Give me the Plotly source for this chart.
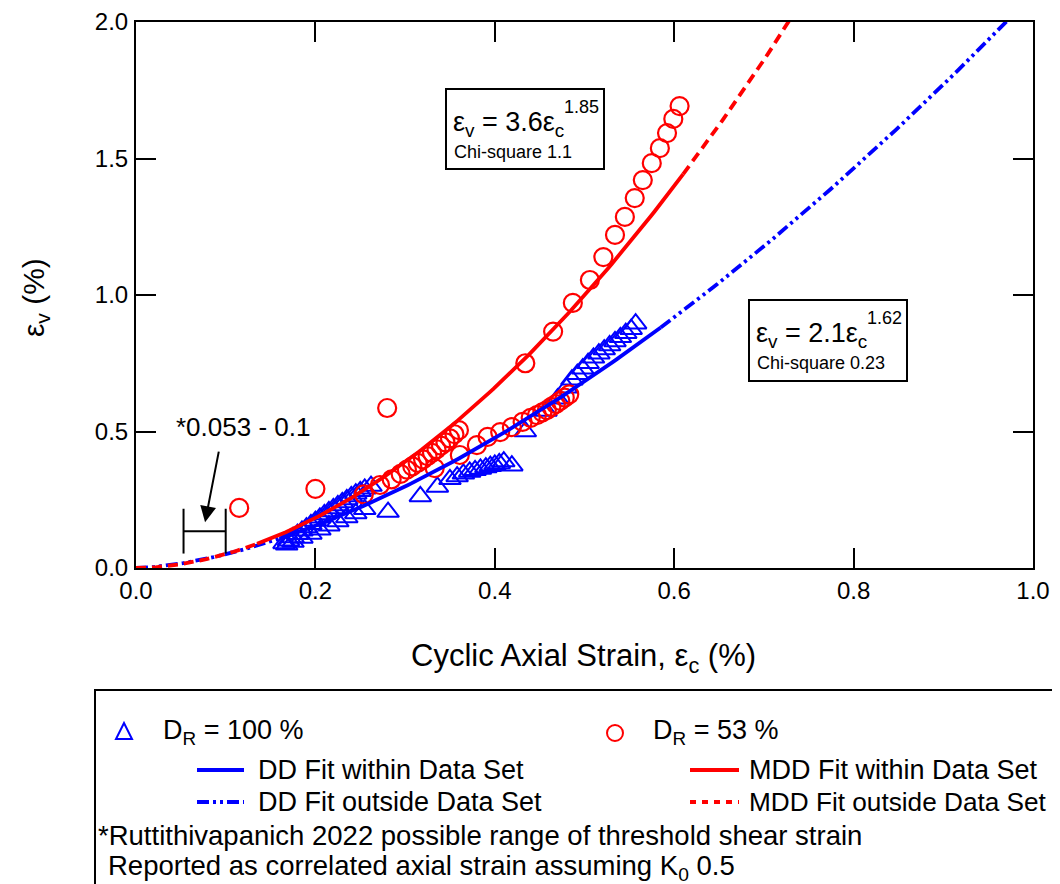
import numpy as np
import plotly.graph_objects as go

FONT = "Liberation Sans, Arial, sans-serif"

# ---------------- data ----------------
# DR = 100 % (DD) test points
dd_x_a = [0.165, 0.170, 0.175, 0.180, 0.185, 0.190, 0.195, 0.200, 0.205, 0.210,
          0.215, 0.220, 0.225, 0.230, 0.235, 0.240, 0.245, 0.250, 0.255, 0.262]
dd_y_a = [0.090, 0.100, 0.112, 0.124, 0.136, 0.148, 0.160, 0.172, 0.184, 0.196,
          0.207, 0.218, 0.229, 0.240, 0.251, 0.262, 0.272, 0.281, 0.290, 0.300]
dd_x_b = [0.168, 0.175, 0.185, 0.195, 0.205, 0.215, 0.225, 0.235, 0.245, 0.255]
dd_y_b = [0.085, 0.095, 0.110, 0.125, 0.140, 0.155, 0.170, 0.185, 0.200, 0.215]
dd_x_c = [0.281, 0.317, 0.336, 0.350, 0.358, 0.365, 0.372, 0.378, 0.384, 0.390,
          0.395, 0.400, 0.405, 0.410, 0.419]
dd_y_c = [0.205, 0.262, 0.297, 0.325, 0.335, 0.345, 0.352, 0.358, 0.363, 0.368,
          0.373, 0.378, 0.383, 0.390, 0.375]
dd_x_d = [0.434, 0.457, 0.470, 0.480, 0.486, 0.492, 0.498, 0.504, 0.510, 0.516,
          0.522, 0.528, 0.534, 0.540, 0.546, 0.552, 0.557]
dd_y_d = [0.500, 0.575, 0.620, 0.660, 0.690, 0.710, 0.730, 0.750, 0.770, 0.785,
          0.800, 0.815, 0.830, 0.845, 0.860, 0.875, 0.895]

# DR = 53 % (MDD) test points
mdd_x_a = [0.115, 0.200, 0.280, 0.272, 0.285, 0.295, 0.302, 0.308, 0.314, 0.320,
           0.325, 0.330, 0.335, 0.340, 0.345, 0.350, 0.355, 0.360,
           0.434, 0.465, 0.487, 0.506, 0.521, 0.534, 0.545, 0.556, 0.565,
           0.575, 0.584, 0.592, 0.599, 0.606]
mdd_y_a = [0.220, 0.290, 0.586, 0.304, 0.325, 0.345, 0.360, 0.372, 0.385, 0.398,
           0.410, 0.422, 0.435, 0.448, 0.460, 0.475, 0.490, 0.505,
           0.750, 0.866, 0.971, 1.055, 1.139, 1.220, 1.286, 1.355, 1.421,
           1.483, 1.538, 1.593, 1.645, 1.692]
mdd_x_b = [0.254, 0.333, 0.361, 0.380, 0.392, 0.406, 0.419, 0.431, 0.440, 0.447,
           0.453, 0.458, 0.463, 0.468, 0.473, 0.478, 0.483]
mdd_y_b = [0.270, 0.366, 0.414, 0.450, 0.480, 0.498, 0.516, 0.535, 0.550, 0.560,
           0.570, 0.578, 0.590, 0.600, 0.612, 0.624, 0.636]

# power-law fits printed on the chart: eps_v = a * eps_c ** b
dd_a, dd_b = 2.1, 1.62
mdd_a, mdd_b = 3.6, 1.85
dd_within = (0.16, 0.585)
mdd_within = (0.135, 0.61)
fit_xmax = 1.0

# threshold range (Ruttithivapanich 2022)
thr_range = [0.053, 0.1]
thr_y = 0.135

x_ticks = [0.0, 0.2, 0.4, 0.6, 0.8, 1.0]
y_ticks = [0.0, 0.5, 1.0, 1.5, 2.0]

BLUE = "#0000ff"
RED = "#ff0000"


def fit(a, b, lo, hi, n=120):
    xs = np.linspace(lo, hi, n)
    return xs, a * xs ** b


fig = go.Figure()

tri = dict(symbol="triangle-up-open", size=19, color=BLUE, line=dict(width=2, color=BLUE))
for xs, ys in [(dd_x_a, dd_y_a), (dd_x_b, dd_y_b), (dd_x_c, dd_y_c), (dd_x_d, dd_y_d)]:
    fig.add_trace(go.Scatter(x=xs, y=ys, mode="markers", marker=tri, showlegend=False))

circ = dict(symbol="circle-open", size=18, color=RED, line=dict(width=2.2, color=RED))
for xs, ys in [(mdd_x_a, mdd_y_a), (mdd_x_b, mdd_y_b)]:
    fig.add_trace(go.Scatter(x=xs, y=ys, mode="markers", marker=circ, showlegend=False))

DD_DASH = "12px,4px,3px,4px,3px,4px"
MDD_DASH = "10px,6px"

# DD fits
for lo, hi, dash in [(0.0, dd_within[0], DD_DASH), (dd_within[1], fit_xmax, DD_DASH),
                     (dd_within[0], dd_within[1], "solid")]:
    xs, ys = fit(dd_a, dd_b, lo, hi)
    fig.add_trace(go.Scatter(x=xs, y=ys, mode="lines", showlegend=False,
                             line=dict(color=BLUE, width=3.8, dash=dash)))
# MDD fits
for lo, hi, dash in [(0.0, mdd_within[0], MDD_DASH), (mdd_within[1], fit_xmax, MDD_DASH),
                     (mdd_within[0], mdd_within[1], "solid")]:
    xs, ys = fit(mdd_a, mdd_b, lo, hi)
    fig.add_trace(go.Scatter(x=xs, y=ys, mode="lines", showlegend=False,
                             line=dict(color=RED, width=3.8, dash=dash)))

# threshold range bar
fig.add_trace(go.Scatter(x=thr_range, y=[thr_y, thr_y], mode="lines+markers", showlegend=False,
                         line=dict(color="black", width=2),
                         marker=dict(symbol="line-ns", size=32, line=dict(width=2, color="black"))))

axis_common = dict(showline=True, linecolor="black", linewidth=2, mirror="ticks",
                   ticks="inside", ticklen=20, tickwidth=2, tickcolor="black",
                   showgrid=False, zeroline=False, tickformat=".1f", automargin=False,
                   tickfont=dict(family=FONT, size=24, color="black"))
fig.update_xaxes(range=[0, 1.0], tickvals=x_ticks, ticklabelstandoff=0, **axis_common)
fig.update_yaxes(range=[0, 2.0], tickvals=y_ticks, ticklabelstandoff=1, **axis_common)

# page coordinates of the plot area in the screenshot (page body has an 8px margin)
W, H = 1060, 884
BODY = 8
SL, ST = 136, 22          # screen left/top of plot area
pw, ph = 897, 546
L, T = SL - BODY, ST - BODY
R = W - L - pw
B = H - T - ph


def px(x):
    return (x - SL) / pw


def py(y):
    return (ST + ph - y) / ph


ann = []
shapes = []


def text(x, y, s, size, xa="center", ya="middle", **kw):
    ann.append(dict(x=px(x), y=py(y), xref="paper", yref="paper", showarrow=False,
                    xanchor=xa, yanchor=ya, text=s,
                    font=dict(family=FONT, size=size, color="black"), **kw))


# axis titles
text(583, 658, "Cyclic Axial Strain, ε<sub>c</sub> (%)", 31)
text(35, 298, "ε<sub>v</sub> (%)", 30, textangle=-90)

# equation boxes
for (x0, y0, x1, y1, a_txt, b_txt, chi) in [
        (446, 89, 604, 169, "3.6", "1.85", "Chi-square 1.1"),
        (749, 300, 907, 381, "2.1", "1.62", "Chi-square 0.23")]:
    shapes.append(dict(type="rect", xref="paper", yref="paper",
                       x0=px(x0), x1=px(x1), y0=py(y0), y1=py(y1),
                       line=dict(color="black", width=2), fillcolor="white", layer="above"))
    text(x0 + 5, y0 + 35, f"ε<sub>v</sub> = {a_txt}ε<sub>c</sub>", 27, xa="left")
    text(x0 + 116, y0 + 18, b_txt, 18, xa="left")
    text(x0 + 6, y0 + 63, chi, 18, xa="left")

# threshold label and arrow
ann.append(dict(x=0.077, y=0.168, xref="x", yref="y", ax=14, ay=-72, showarrow=True,
                arrowhead=2, arrowsize=1.6, arrowwidth=2, arrowcolor="black", text=""))
text(243, 427, "*0.053 - 0.1", 26)

# ---------------- manual legend ----------------
shapes.append(dict(type="rect", xref="paper", yref="paper",
                   x0=px(95), x1=px(1075), y0=py(690), y1=py(900),
                   line=dict(color="black", width=2)))
# marker samples
shapes.append(dict(type="path", xref="paper", yref="paper",
                   path=f"M {px(116)} {py(739)} L {px(132)} {py(739)} L {px(124)} {py(723)} Z",
                   line=dict(color=BLUE, width=2)))
shapes.append(dict(type="circle", xref="paper", yref="paper",
                   x0=px(607), x1=px(623), y0=py(725), y1=py(741),
                   line=dict(color=RED, width=2)))
LF = 27
text(161, 732, "D<sub>R</sub> = 100 %", LF, xa="left")
text(651, 732, "D<sub>R</sub> = 53 %", LF, xa="left")
for (x0, x1, yy, col, dash, txt, tx, fs) in [
        (197, 244, 770, BLUE, "solid", "DD Fit within Data Set", 256, LF),
        (197, 244, 802, BLUE, DD_DASH, "DD Fit outside Data Set", 256, LF),
        (690, 739, 770, RED, "solid", "MDD Fit within Data Set", 747, LF),
        (690, 739, 802, RED, "6px,6px", "MDD Fit outside Data Set", 747, 26.2)]:
    shapes.append(dict(type="line", xref="paper", yref="paper",
                       x0=px(x0), x1=px(x1), y0=py(yy), y1=py(yy),
                       line=dict(color=col, width=3.8, dash=dash)))
    text(tx, yy, txt, fs, xa="left")
text(96, 835, "*Ruttithivapanich 2022 possible range of threshold shear strain", 27.5, xa="left")
text(106, 867, "Reported as correlated axial strain assuming K<sub>0</sub> 0.5", 27.5, xa="left")

fig.update_layout(width=W, height=H, margin=dict(l=L, r=R, t=T, b=B, pad=0),
                  paper_bgcolor="white", plot_bgcolor="white",
                  font=dict(family=FONT, color="black"),
                  annotations=ann, shapes=shapes, showlegend=False)

fig.write_html("out.html")
